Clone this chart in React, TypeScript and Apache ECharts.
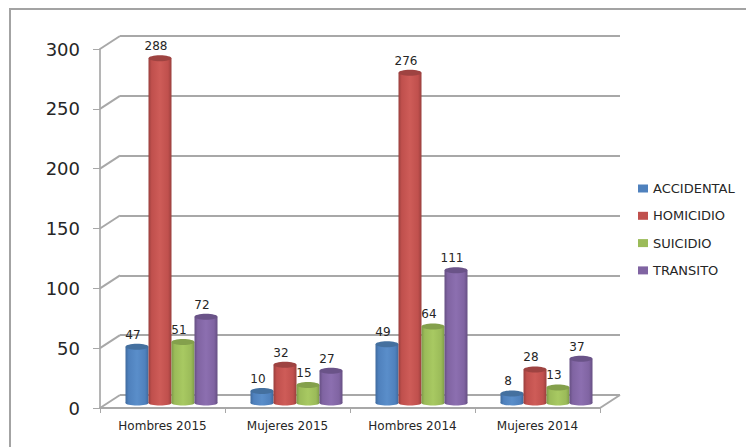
import React, { useEffect, useRef } from "react";
import * as echarts from "echarts";

const categories = ["Hombres 2015", "Mujeres 2015", "Hombres 2014", "Mujeres 2014"];
const seriesNames = ["ACCIDENTAL", "HOMICIDIO", "SUICIDIO", "TRANSITO"];
const accidental = [47, 10, 49, 8];
const homicidio = [288, 32, 276, 28];
const suicidio = [51, 15, 64, 13];
const transito = [72, 27, 111, 37];
const yTicks = [0, 50, 100, 150, 200, 250, 300];
const values = [accidental, homicidio, suicidio, transito];
const palette = [
  { base: "#4F81BD", light: "#5A8ECA", dark: "#3F6A9E", top: "#44709F" },
  { base: "#C0504D", light: "#CE5C58", dark: "#9A3F3D", top: "#9E4341" },
  { base: "#9BBB59", light: "#A8C962", dark: "#7F9B49", top: "#84A04C" },
  { base: "#8064A2", light: "#8C6FB0", dark: "#664F83", top: "#6A5388" },
];

const GREY = "#a8a8a8";
const DEPTH_X = 20;
const DEPTH_Y = 13;
const BAR_W = 23;
const FONT = "'DejaVu Sans', Verdana, sans-serif";

function barRender(seriesIdx: number) {
  return (_params: any, api: any) => {
    const cat = api.value(0);
    const val = api.value(1);
    const top = api.coord([cat, val]);
    const bottom = api.coord([cat, 0]);
    const cx = top[0] + (seriesIdx - 1.5) * BAR_W + DEPTH_X / 2 - 1;
    const yTop = top[1] - 5;
    const yBot = bottom[1] - 5;
    const c = palette[seriesIdx];
    const fill = new echarts.graphic.LinearGradient(0, 0, 1, 0, [
      { offset: 0, color: c.dark },
      { offset: 0.14, color: c.base },
      { offset: 0.5, color: c.light },
      { offset: 0.85, color: c.base },
      { offset: 1, color: c.dark },
    ]);
    const rx = BAR_W / 2;
    return {
      type: "group",
      children: [
        { type: "ellipse", shape: { cx, cy: yBot, rx, ry: 2.5 }, style: { fill } },
        { type: "rect", shape: { x: cx - rx, y: yTop, width: BAR_W, height: yBot - yTop }, style: { fill } },
        { type: "ellipse", shape: { cx, cy: yTop, rx, ry: 3 }, style: { fill: c.top } },
        {
          type: "text",
          x: cx - 4,
          y: yTop - 12,
          style: {
            text: String(val),
            fill: "#262626",
            font: `12px ${FONT}`,
            align: "center",
            verticalAlign: "middle",
          },
        },
      ],
    };
  };
}

function connectorRender(params: any, api: any) {
  const v = api.value(0);
  const left = api.coord([0, v]);
  const x = params.coordSys.x;
  const children: any[] = [
    {
      type: "line",
      shape: { x1: x, y1: left[1], x2: x + DEPTH_X, y2: left[1] - DEPTH_Y },
      style: { stroke: GREY, lineWidth: 2 },
    },
  ];
  if (v === 0) {
    const xr = x + params.coordSys.width;
    children.push({
      type: "line",
      shape: { x1: xr, y1: left[1], x2: xr + DEPTH_X, y2: left[1] - DEPTH_Y },
      style: { stroke: GREY, lineWidth: 2 },
    });
  }
  return { type: "group", children };
}

export default function App() {
  const ref = useRef<HTMLDivElement>(null);
  useEffect(() => {
    document.body.style.margin = "0";
    const chart = echarts.init(ref.current!, null, { renderer: "svg" });
    chart.setOption({
      animation: false,
      backgroundColor: "#ffffff",
      textStyle: { fontFamily: FONT },
      graphic: [
        {
          type: "rect",
          z: -10,
          shape: { x: 10, y: 9, width: 800, height: 500 },
          style: { fill: "none", stroke: "#a3a3a3", lineWidth: 2 },
        },
      ],
      legend: {
        orient: "vertical",
        left: 633,
        top: 177,
        icon: "rect",
        itemWidth: 10,
        itemHeight: 8,
        itemGap: 14.3,
        data: seriesNames,
        textStyle: { fontSize: 13, color: "#262626", fontFamily: FONT, lineHeight: 13 },
      },
      grid: [
        { left: 100, top: 49, width: 500, height: 359 },
        { left: 120, top: 36, width: 500, height: 359 },
      ],
      xAxis: [
        {
          type: "category",
          gridIndex: 0,
          data: categories,
          axisLine: { lineStyle: { color: GREY, width: 2 } },
          axisTick: { show: true, length: 5, lineStyle: { color: GREY, width: 1 } },
          axisLabel: { color: "#262626", fontSize: 12, margin: 12, interval: 0 },
        },
        {
          type: "category",
          gridIndex: 1,
          data: categories,
          axisLine: { show: false },
          axisTick: { show: false },
          axisLabel: { show: false },
        },
      ],
      yAxis: [
        {
          type: "value",
          gridIndex: 0,
          min: 0,
          max: 300,
          interval: 50,
          splitLine: { show: false },
          axisLine: { show: true, lineStyle: { color: "#b5b5b5", width: 2 } },
          axisTick: { show: true, length: 7, lineStyle: { color: GREY, width: 1 } },
          axisLabel: { color: "#262626", fontSize: 18, margin: 20 },
        },
        {
          type: "value",
          gridIndex: 1,
          min: 0,
          max: 300,
          interval: 50,
          axisLine: { show: false },
          axisTick: { show: false },
          axisLabel: { show: false },
          splitLine: { show: true, lineStyle: { color: GREY, width: 2 } },
        },
      ],
      series: [
        {
          type: "custom",
          name: "connectors",
          coordinateSystem: "cartesian2d",
          xAxisIndex: 0,
          yAxisIndex: 0,
          data: yTicks.map((t) => [t]),
          encode: { y: 0 },
          renderItem: connectorRender,
          silent: true,
          z: 1,
          clip: false,
        },
        ...seriesNames.map((name, i) => ({
          type: "custom",
          name,
          coordinateSystem: "cartesian2d",
          xAxisIndex: 0,
          yAxisIndex: 0,
          itemStyle: { color: palette[i].base },
          data: values[i].map((v, c) => [c, v]),
          encode: { x: 0, y: 1 },
          renderItem: barRender(i),
          z: 3 + i,
          clip: false,
        })),
      ],
    });
    return () => chart.dispose();
  }, []);
  return <div ref={ref} style={{ width: 746, height: 447 }} />;
}
